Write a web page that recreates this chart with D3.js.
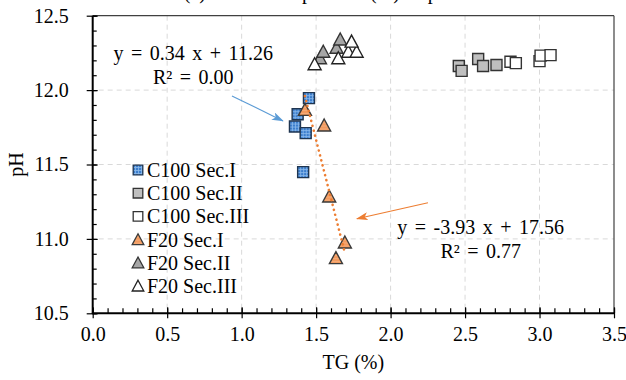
<!DOCTYPE html>
<html>
<head>
<meta charset="utf-8">
<script src="https://cdn.jsdelivr.net/npm/d3@7"></script>
<style>
  body { margin: 0; background: #fff; }
  svg { display: block; font-family: "Liberation Serif", "Times New Roman", serif; }
</style>
</head>
<body>
<svg id="chart" width="626" height="380"></svg>
<script>
// ---- data (TG %, pH) ----
var c100Sec1X = [1.452, 1.376, 1.358, 1.430, 1.413];
var c100Sec1Y = [11.946, 11.838, 11.755, 11.711, 11.449];
var c100Sec2X = [2.458, 2.477, 2.588, 2.621, 2.711];
var c100Sec2Y = [12.162, 12.129, 12.209, 12.162, 12.169];
var c100Sec3X = [2.805, 2.841, 3.000, 3.007, 3.074];
var c100Sec3Y = [12.191, 12.181, 12.195, 12.232, 12.235];
var f20Sec1X = [1.425, 1.554, 1.588, 1.693, 1.633];
var f20Sec1Y = [11.867, 11.762, 11.285, 10.976, 10.871];
var f20Sec2X = [1.526, 1.548, 1.637, 1.662];
var f20Sec2Y = [12.214, 12.258, 12.285, 12.340];
var f20Sec3X = [1.490, 1.649, 1.716, 1.772, 1.738];
var f20Sec3Y = [12.174, 12.214, 12.258, 12.258, 12.326];

var legendNames = ["C100 Sec.I", "C100 Sec.II", "C100 Sec.III", "F20 Sec.I", "F20 Sec.II", "F20 Sec.III"];
var xTicks = [0, 0.5, 1, 1.5, 2, 2.5, 3, 3.5];
var yTicks = [10.5, 11, 11.5, 12, 12.5];

// trend line of F20 Sec.I (from the figure)
var trendSlope = -3.93, trendIntercept = 17.56;

// ---- layout ----
var svg = d3.select("#chart");
var plotL = 92.7, plotR = 614, plotT = 15.7, plotB = 313.3;

var x = d3.scaleLinear().domain([0, 3.5]).range([plotL, plotR]);
var y = d3.scaleLinear().domain([10.5, 12.5]).range([plotB, plotT]);

var defs = svg.append("defs");
var pat = defs.append("pattern")
    .attr("id", "bluegrid")
    .attr("patternUnits", "userSpaceOnUse")
    .attr("width", 3).attr("height", 3);
pat.append("rect").attr("width", 3).attr("height", 3).attr("fill", "#3b7dcc");
pat.append("path").attr("d", "M0,0.5H3M0.5,0V3").attr("stroke", "#8dbbeb").attr("stroke-width", 0.8);

var pat2 = defs.append("pattern")
    .attr("id", "orangetex")
    .attr("patternUnits", "userSpaceOnUse")
    .attr("width", 3).attr("height", 3);
pat2.append("rect").attr("width", 3).attr("height", 3).attr("fill", "#f29a5e");
pat2.append("path").attr("d", "M0,0.5H3").attr("stroke", "#f6b386").attr("stroke-width", 0.7);

function arrowMarker(id, color) {
    defs.append("marker")
        .attr("id", id)
        .attr("markerUnits", "userSpaceOnUse")
        .attr("viewBox", "0 0 12 8")
        .attr("markerWidth", 12).attr("markerHeight", 8)
        .attr("refX", 11).attr("refY", 4)
        .attr("orient", "auto")
        .append("path")
        .attr("d", "M0,0 L12,4 L0,8 L3,4 Z")
        .attr("fill", color);
}
arrowMarker("arrBlue", "#5b9bd5");
arrowMarker("arrOrange", "#ed7d31");

// title, mostly cut off at the top edge
svg.append("text")
    .attr("x", 318).attr("y", -1.5)
    .attr("text-anchor", "middle")
    .style("font-size", "20px")
    .text("(a) Relationship of TG (%) vs pH");

// grid lines
var grid = svg.append("g").attr("class", "grid");
grid.selectAll("line.gx")
    .data(xTicks.slice(1, -1))
    .enter().append("line")
    .attr("x1", function(d) { return x(d); })
    .attr("x2", function(d) { return x(d); })
    .attr("y1", plotT).attr("y2", plotB)
    .attr("stroke", "#d9d9d9").attr("stroke-width", 1)
    .attr("stroke-dasharray", "5,4");
grid.selectAll("line.gy")
    .data(yTicks.slice(1, -1))
    .enter().append("line")
    .attr("y1", function(d) { return y(d); })
    .attr("y2", function(d) { return y(d); })
    .attr("x1", plotL + 6).attr("x2", plotR)
    .attr("stroke", "#d9d9d9").attr("stroke-width", 1)
    .attr("stroke-dasharray", "5,4");

// frame
svg.append("line").attr("x1", plotL).attr("x2", plotR).attr("y1", plotT).attr("y2", plotT)
    .attr("stroke", "#404040").attr("stroke-width", 1.2);
svg.append("line").attr("x1", plotR).attr("x2", plotR).attr("y1", plotT).attr("y2", plotB)
    .attr("stroke", "#404040").attr("stroke-width", 1.2);

// axes
var xAxisMinor = d3.axisBottom(x).tickValues(d3.range(0, 3.51, 0.1)).tickSize(-5).tickFormat("");
var xAxis = d3.axisBottom(x).tickValues(xTicks).tickSizeInner(5).tickSizeOuter(0)
    .tickFormat(d3.format(".1f")).tickPadding(9);
var yAxisMinor = d3.axisLeft(y).tickValues(d3.range(10.5, 12.51, 0.1)).tickSize(-4).tickFormat("");
var yAxis = d3.axisLeft(y).tickValues(yTicks).tickSizeInner(6).tickSizeOuter(0)
    .tickFormat(d3.format(".1f")).tickPadding(18);

function styleAxis(g) {
    g.select(".domain").remove();
    g.selectAll("line").attr("stroke", "#000").attr("stroke-width", 1.2);
    g.selectAll("text").attr("fill", "#000")
        .style("font-size", "20px")
        .style("font-family", "'Liberation Serif', 'Times New Roman', serif");
}

svg.append("g").attr("transform", "translate(0," + plotB + ")").call(xAxisMinor).call(styleAxis);
svg.append("g").attr("transform", "translate(0," + plotB + ")").call(xAxis).call(styleAxis)
    .selectAll(".tick line").attr("y1", -6);
svg.append("g").attr("transform", "translate(" + plotL + ",0)").call(yAxisMinor).call(styleAxis);
svg.append("g").attr("transform", "translate(" + plotL + ",0)").call(yAxis).call(styleAxis)
    .selectAll(".tick line").attr("x1", 5);

svg.append("line").attr("x1", plotL).attr("x2", plotL).attr("y1", plotT).attr("y2", plotB + 0.8)
    .attr("stroke", "#000").attr("stroke-width", 2);
svg.append("line").attr("x1", plotL - 0.8).attr("x2", plotR).attr("y1", plotB).attr("y2", plotB)
    .attr("stroke", "#000").attr("stroke-width", 2);

// axis titles
svg.append("text")
    .attr("x", (plotL + plotR) / 2).attr("y", 369)
    .attr("text-anchor", "middle")
    .style("font-size", "20px")
    .text("TG (%)");
svg.append("text")
    .attr("transform", "translate(23," + ((plotT + plotB) / 2) + ") rotate(-90)")
    .attr("text-anchor", "middle")
    .style("font-size", "20px")
    .text("pH");

// ---- series ----
var squarePath = "M-5.5,-5.5H5.5V5.5H-5.5Z";
var trianglePath = "M0,-6.5L6.5,5.5L-6.5,5.5Z";

var series = [
    { xs: c100Sec1X, ys: c100Sec1Y, shape: squarePath, fill: "url(#bluegrid)", stroke: "#1f3550" },
    { xs: c100Sec2X, ys: c100Sec2Y, shape: squarePath, fill: "#bfbfbf", stroke: "#333" },
    { xs: c100Sec3X, ys: c100Sec3Y, shape: squarePath, fill: "#fff", stroke: "#333" },
    { xs: f20Sec1X, ys: f20Sec1Y, shape: trianglePath, fill: "url(#orangetex)", stroke: "#3a3a3a" },
    { xs: f20Sec2X, ys: f20Sec2Y, shape: trianglePath, fill: "#a6a6a6", stroke: "#333" },
    { xs: f20Sec3X, ys: f20Sec3Y, shape: trianglePath, fill: "#fff", stroke: "#222" }
];

series.forEach(function(s) {
    var pts = s.xs.map(function(v, i) { return [v, s.ys[i]]; });
    svg.append("g").selectAll("path")
        .data(pts)
        .enter().append("path")
        .attr("d", s.shape)
        .attr("transform", function(d) { return "translate(" + x(d[0]) + "," + y(d[1]) + ")"; })
        .attr("fill", s.fill)
        .attr("stroke", s.stroke)
        .attr("stroke-width", 1.4);
});

// dotted trend line for F20 Sec.I
var tx = d3.extent(f20Sec1X);
svg.append("line")
    .attr("x1", x(tx[0])).attr("y1", y(trendSlope * tx[0] + trendIntercept))
    .attr("x2", x(tx[1])).attr("y2", y(trendSlope * tx[1] + trendIntercept))
    .attr("stroke", "#ed7d31").attr("stroke-width", 2.6)
    .attr("stroke-linecap", "round")
    .attr("stroke-dasharray", "0.1,5");

// ---- legend ----
var legend = svg.append("g");
var legendRows = legend.selectAll("g")
    .data(series)
    .enter().append("g")
    .attr("transform", function(d, i) { return "translate(138," + (170 + i * 23.2) + ")"; });
legendRows.append("path")
    .attr("d", function(d) { return d.shape === squarePath ? "M-4.8,-4.8H4.8V4.8H-4.8Z" : "M0,-5.8L5.8,5L-5.8,5Z"; })
    .attr("fill", function(d) { return d.fill; })
    .attr("stroke", function(d) { return d.stroke; })
    .attr("stroke-width", 1.3);
legendRows.append("text")
    .attr("x", 9).attr("y", 7)
    .style("font-size", "20px")
    .text(function(d, i) { return legendNames[i]; });

// ---- equation annotations ----
var notes = [
    { lines: ["y = 0.34 x + 11.26", "R\u00b2 = 0.00"], tx: 0.675, ty: 12.203,
      from: [0.935, 11.961], to: [1.277, 11.793], marker: "arrBlue", color: "#5b9bd5" },
    { lines: ["y = -3.93 x + 17.56", "R\u00b2 = 0.77"], tx: 2.605, ty: 11.03,
      from: [2.251, 11.243], to: [1.774, 11.136], marker: "arrOrange", color: "#ed7d31" }
];

notes.forEach(function(n) {
    var t = svg.append("text")
        .attr("text-anchor", "middle")
        .style("font-size", "20px")
        .style("word-spacing", "2.5px");
    n.lines.forEach(function(line, i) {
        t.append("tspan")
            .attr("x", x(n.tx))
            .attr("y", y(n.ty) + i * 24)
            .text(line);
    });
    svg.append("line")
        .attr("x1", x(n.from[0])).attr("y1", y(n.from[1]))
        .attr("x2", x(n.to[0])).attr("y2", y(n.to[1]))
        .attr("stroke", n.color).attr("stroke-width", 1.1)
        .attr("marker-end", "url(#" + n.marker + ")");
});
</script>
</body>
</html>
